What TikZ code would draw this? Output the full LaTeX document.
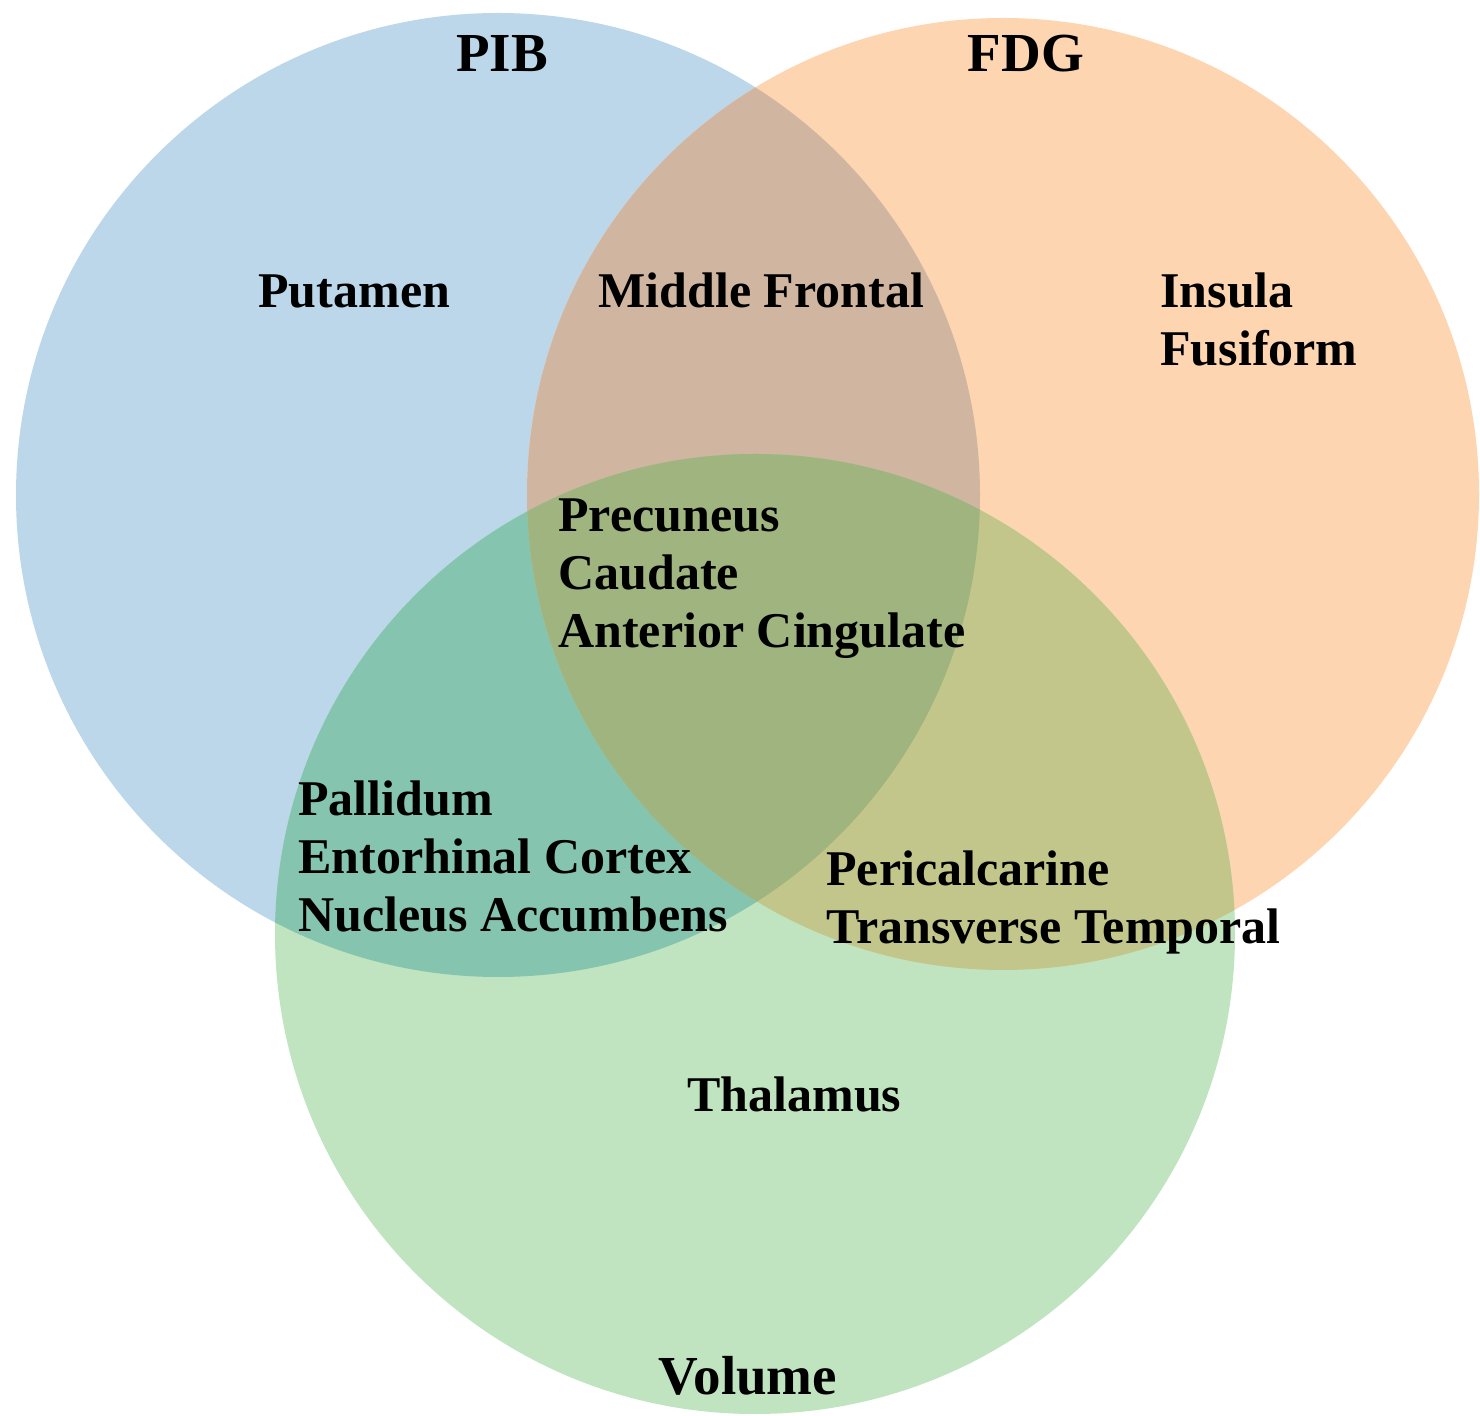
\documentclass[tikz,border=0pt]{standalone}
\usepackage{fontspec}
\setmainfont{Liberation Serif}
\definecolor{pibc}{HTML}{BCD7EA}
\definecolor{fdgc}{HTML}{FDD5B1}
\definecolor{volc}{HTML}{C0E4C0}
\definecolor{pfc}{HTML}{D0B6A1}
\definecolor{pvc}{HTML}{85C4AE}
\definecolor{fvc}{HTML}{C2C68A}
\definecolor{pfvc}{HTML}{9FB47F}
\begin{document}
\begin{tikzpicture}[x=0.5pt,y=-0.5pt,
  lbl/.style={anchor=base west,inner sep=0pt,text=black,font=\fontsize{25}{29}\selectfont\bfseries},
  ttl/.style={anchor=base,inner sep=0pt,text=black,font=\fontsize{27.5}{33}\selectfont\bfseries}]
\useasboundingbox (0,0) rectangle (1480,1416);
\fill[white] (0,0) rectangle (1480,1416);
\def\cB{(498,495) circle[radius=241pt]}
\def\cF{(1003,494) circle[radius=238pt]}
\def\cV{(755,934) circle[radius=240pt]}
\fill[pibc] \cB;
\fill[fdgc] \cF;
\fill[volc] \cV;
\begin{scope}\clip \cB; \fill[pfc] \cF; \end{scope}
\begin{scope}\clip \cB; \fill[pvc] \cV; \end{scope}
\begin{scope}\clip \cF; \fill[fvc] \cV; \end{scope}
\begin{scope}\clip \cB; \clip \cF; \fill[pfvc] \cV; \end{scope}
% titles
\node[ttl] (pib) at (502,72) {PIB};
\node[ttl] (fdg) at (1026,72) {FDG};
\node[ttl] (vol) at (748,1395) {Volume};
% labels
\node[lbl] (putamen) at (258,308) {Putamen};
\node[lbl] (midfront) at (598,308) {Middle Frontal};
\node[lbl] (insula) at (1160,308) {Insula};
\node[lbl] (fusiform) at (1160,366) {Fusiform};
\node[lbl] (precuneus) at (558,532) {Precuneus};
\node[lbl] (caudate) at (558,590) {Caudate};
\node[lbl] (antcing) at (558,648) {Anterior Cingulate};
\node[lbl] (pallidum) at (298,816) {Pallidum};
\node[lbl] (entorhinal) at (298,874) {Entorhinal Cortex};
\node[lbl] (nucacc) at (298,932) {Nucleus Accumbens};
\node[lbl] (pericalc) at (826,886) {Pericalcarine};
\node[lbl] (transtemp) at (826,944) {Transverse Temporal};
\node[lbl] (thalamus) at (687,1112) {Thalamus};
\end{tikzpicture}
\end{document}
